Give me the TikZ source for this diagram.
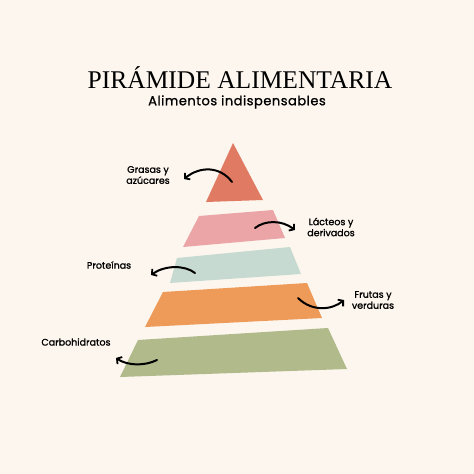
\documentclass[tikz,border=0pt]{standalone}
\usepackage{fontspec}
\setmainfont{Liberation Serif}
\newfontfamily\handfont[FakeBold=1.2]{Poppins}
\newfontfamily\subfont[FakeBold=1.0,LetterSpace=4]{Poppins}
\usetikzlibrary{arrows.meta}
\definecolor{bgc}{HTML}{FCF6EE}
\definecolor{c1}{HTML}{E07A63}
\definecolor{c2}{HTML}{EBA5A6}
\definecolor{c3}{HTML}{C6DAD1}
\definecolor{c4}{HTML}{EE9A58}
\definecolor{c5}{HTML}{B0BA8A}
\begin{document}
\begin{tikzpicture}[x=1pt,y=-1pt,
  layer/.style={line join=round},
  lbl/.style={font=\handfont\fontsize{9.5}{11}\selectfont, align=center, inner sep=0pt, text=black},
  arr/.style={line width=2pt, line cap=round, -{Straight Barb[length=3.5pt,width=8.5pt,line width=1.8pt]}}]
\fill[bgc] (0,0) rectangle (474,474);
\useasboundingbox (0,0) rectangle (474,474);
% titles
\node[font=\fontsize{25.5}{28}\selectfont, inner sep=0pt] (title) at (240,78) {PIRÁMIDE ALIMENTARIA};
\node[font=\subfont\fontsize{13}{14}\selectfont, inner sep=0pt] (sub) at (237,102) {Alimentos indispensables};
% pyramid layers
\fill[c1, layer] (233,143) -- (263,200) -- (206,202) -- cycle;
\fill[c2, layer] (199,216) -- (273,210) -- (285,238) -- (183,247) -- cycle;
\fill[c3, layer] (177,258) -- (290,247) -- (301,274) -- (170,283) -- cycle;
\fill[c4, layer] (163,292) -- (307,283) -- (322,318) -- (145,327) -- cycle;
\fill[c5, layer] (138,340) -- (328,328) -- (347,369) -- (120,377) -- cycle;
% anchor coordinates for arrows
\coordinate (a1s) at (232,182); \coordinate (a1e) at (184,179);
\coordinate (a2s) at (255,228); \coordinate (a2e) at (295,230);
\coordinate (a3s) at (195,273); \coordinate (a3e) at (151,275);
\coordinate (a4s) at (298,298); \coordinate (a4e) at (344,300);
\coordinate (a5s) at (157,360); \coordinate (a5e) at (116,358);
% labels
\node[lbl] (grasas) at (148,175) {Grasas y\\azúcares};
\node[lbl] (lacteos) at (331,227) {Lácteos y\\derivados};
\node[lbl] (prot) at (109,265) {Proteínas};
\node[lbl] (frutas) at (373,300) {Frutas y\\verduras};
\node[lbl] (carbo) at (76,342) {Carbohidratos};
% arrows
\draw[arr] (a1s) .. controls (220,166) and (200,166) .. (a1e);
\draw[arr] (a2s) .. controls (265,220) and (282,220) .. (a2e);
\draw[arr] (a3s) .. controls (185,265) and (165,265) .. (a3e);
\draw[arr] (a4s) .. controls (312,312) and (332,310) .. (a4e);
\draw[arr] (a5s) .. controls (145,366) and (128,366) .. (a5e);
\end{tikzpicture}
\end{document}
